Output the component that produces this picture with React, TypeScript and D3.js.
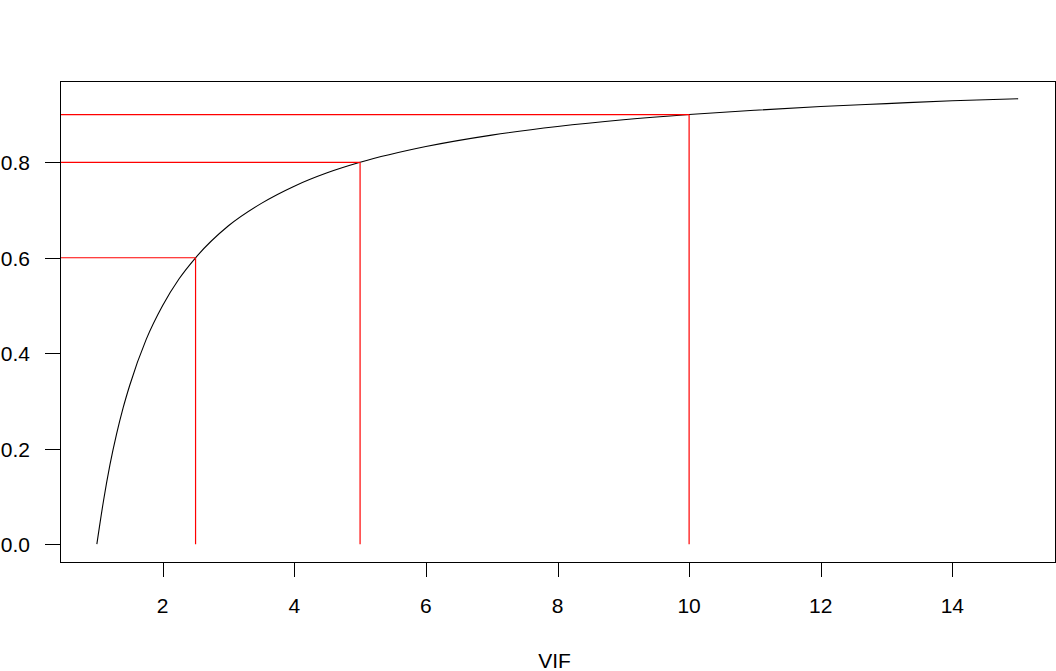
import React from "react";
import * as d3 from "d3";

// VIF on x, R-squared on y
const vifValues = [1, 1.1, 1.2, 1.3, 1.4, 1.5, 1.75, 2, 2.25, 2.5, 3, 3.5, 4, 4.5, 5, 6, 7, 8, 9, 10, 11, 12, 13, 14, 15];
const r2Values = [0, 0.09, 0.167, 0.231, 0.286, 0.333, 0.429, 0.5, 0.556, 0.6, 0.667, 0.714, 0.75, 0.778, 0.8, 0.833, 0.857, 0.875, 0.889, 0.9, 0.909, 0.917, 0.923, 0.929, 0.933];

// reference lines (VIF thresholds and their R-squared)
const refVif = [2.5, 5, 10];
const refR2 = [0.6, 0.8, 0.9];

const xTicks = [2, 4, 6, 8, 10, 12, 14];
const yTicks = [0, 0.2, 0.4, 0.6, 0.8];
const xLabel = "VIF";

const W = 1056;
const H = 671;
const plot = { left: 60, right: 1055, top: 81, bottom: 562 };

export default function App() {
  const xMin = d3.min(vifValues)!;
  const xMax = d3.max(vifValues)!;
  const yMin = d3.min(r2Values)!;
  const yMax = d3.max(r2Values)!;
  const xPad = (xMax - xMin) * 0.04;
  const yPad = (yMax - yMin) * 0.04;
  const x = d3.scaleLinear().domain([xMin - xPad, xMax + xPad]).range([plot.left, plot.right]);
  const y = d3.scaleLinear().domain([yMin - yPad, yMax + yPad]).range([plot.bottom, plot.top]);

  const pts: [number, number][] = vifValues.map((v, i) => [v, r2Values[i]]);
  const line = d3
    .line<[number, number]>()
    .x((d) => x(d[0]))
    .y((d) => y(d[1]))
    .curve(d3.curveMonotoneX);

  const font = "Liberation Sans, Arial, sans-serif";
  const fs = 21;
  const red = "#ff0000";

  const y0 = y(0);

  return (
    <svg
      width={W}
      height={H}
      style={{ position: "absolute", left: 0, top: 0, background: "#fff" }}
      fontFamily={font}
    >
      <rect x={0} y={0} width={W} height={H} fill="#fff" />
      {/* curve */}
      <path d={line(pts) || ""} fill="none" stroke="#000" strokeWidth={1.1} />
      {/* red reference lines */}
      {refVif.map((v, i) => (
        <g key={"ref" + i}>
          <line x1={plot.left} x2={x(v)} y1={y(refR2[i])} y2={y(refR2[i])} stroke={red} strokeWidth={1.2} />
          <line x1={x(v)} x2={x(v)} y1={y(refR2[i])} y2={y0} stroke={red} strokeWidth={1.2} />
        </g>
      ))}
      {/* box */}
      <rect
        x={plot.left + 0.5}
        y={plot.top + 0.5}
        width={plot.right - plot.left}
        height={plot.bottom - plot.top}
        fill="none"
        stroke="#000"
        strokeWidth={1}
        shapeRendering="crispEdges"
      />
      {/* x axis */}
      {xTicks.map((t) => (
        <g key={"x" + t}>
          <rect x={Math.round(x(t))} y={plot.bottom} width={1} height={15} fill="#000" />
          <text x={x(t)} y={plot.bottom + 51} fontSize={fs} textAnchor="middle" fill="#000">
            {t}
          </text>
        </g>
      ))}
      {/* y axis */}
      {yTicks.map((t) => (
        <g key={"y" + t}>
          <rect x={plot.left - 15} y={Math.round(y(t))} width={15} height={1} fill="#000" />
          <text x={30} y={y(t) + 8} fontSize={fs} textAnchor="end" fill="#000">
            {d3.format(".1f")(t)}
          </text>
        </g>
      ))}
      <text x={(plot.left + plot.right) / 2 - 3} y={668} fontSize={fs} textAnchor="middle" fill="#000">
        {xLabel}
      </text>
    </svg>
  );
}
